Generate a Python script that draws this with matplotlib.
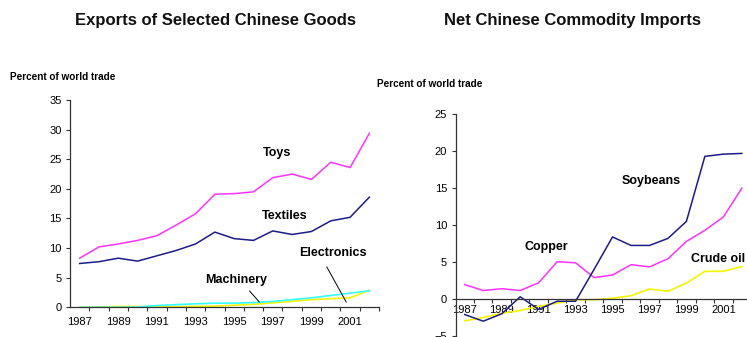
import numpy as np
import matplotlib
matplotlib.use("Agg")
import matplotlib.pyplot as plt
from matplotlib.ticker import FixedLocator, NullFormatter, FixedFormatter

plt.rcParams['font.family'] = ['Liberation Sans', 'DejaVu Sans']

years = np.arange(1987, 2003)
label_years = list(range(1987, 2003, 2))
label_text = [str(y) for y in label_years]

# exports, percent of world trade
toys = [8.3, 10.2, 10.7, 11.3, 12.1, 13.9, 15.8, 19.1, 19.2, 19.5, 21.9, 22.5, 21.6, 24.5, 23.6, 29.4]
textiles = [7.4, 7.7, 8.3, 7.8, 8.7, 9.6, 10.7, 12.7, 11.6, 11.3, 12.9, 12.3, 12.8, 14.6, 15.2, 18.6]
machinery = [0.0, 0.0, 0.0, 0.05, 0.3, 0.45, 0.6, 0.7, 0.7, 0.8, 1.0, 1.3, 1.6, 2.0, 2.4, 2.8]
electronics = [0.0, 0.05, 0.15, 0.15, 0.1, 0.1, 0.15, 0.2, 0.35, 0.5, 0.75, 1.0, 1.3, 1.45, 1.6, 2.9]

# net commodity imports, percent of world trade
soybeans = [-2.1, -3.0, -2.0, 0.3, -1.4, -0.3, -0.3, 4.0, 8.4, 7.25, 7.25, 8.2, 10.5, 19.3, 19.6, 19.7]
copper = [1.95, 1.15, 1.4, 1.15, 2.2, 5.05, 4.9, 2.9, 3.25, 4.65, 4.35, 5.45, 7.8, 9.3, 11.1, 15.0]
crude_oil = [-2.95, -2.5, -1.95, -1.55, -1.0, -0.55, -0.1, -0.1, 0.1, 0.45, 1.35, 1.05, 2.15, 3.75, 3.75, 4.4]

MAGENTA = '#ff33ff'
NAVY = '#1c1c88'
CYAN = '#33ffff'
YELLOW = '#f4f400'
AXIS = '#333333'


def style_axes(ax, ylo, yhi, yticks):
    ax.set_xlim(years[0] - 0.5, years[-1] + 0.5)
    ax.set_ylim(ylo, yhi)
    for s in ['top', 'right']:
        ax.spines[s].set_visible(False)
    for s in ['left', 'bottom']:
        ax.spines[s].set_color(AXIS)
        ax.spines[s].set_linewidth(0.9)
    # tick marks sit between categories, labels on every other year
    ax.xaxis.set_major_locator(FixedLocator(np.arange(years[0] + 0.5, years[-1] + 1, 1.0)))
    ax.xaxis.set_major_formatter(NullFormatter())
    ax.xaxis.set_minor_locator(FixedLocator(label_years))
    ax.xaxis.set_minor_formatter(FixedFormatter(label_text))
    ax.tick_params(axis='x', which='major', length=3, width=0.8, color=AXIS, direction='out')
    ax.tick_params(axis='x', which='minor', length=0, pad=7, labelsize=8)
    ax.set_yticks(yticks)
    ax.tick_params(axis='y', length=3, width=0.8, color=AXIS, direction='out', pad=3, labelsize=8)


fig = plt.figure(figsize=(7.47, 3.37), dpi=100)

# left: exports
ax1 = fig.add_axes([0.0937, 0.0881, 0.4137, 0.615])
ax1.plot(years, electronics, color=YELLOW, lw=1.2)
ax1.plot(years, machinery, color=CYAN, lw=1.2)
ax1.plot(years, textiles, color=NAVY, lw=1.1)
ax1.plot(years, toys, color=MAGENTA, lw=1.1)
style_axes(ax1, 0, 35, range(0, 36, 5))

lbl = dict(fontsize=9, fontweight='bold', ha='center', va='center')
ax1.text(1997.2, 26.1, 'Toys', **lbl)
ax1.text(1997.6, 15.4, 'Textiles', **lbl)
ax1.text(2000.1, 9.2, 'Electronics', **lbl)
ax1.text(1995.1, 4.6, 'Machinery', **lbl)
ax1.plot([1999.8, 2000.8], [6.8, 0.9], color='black', lw=0.7)
ax1.plot([1995.8, 1996.3], [2.75, 0.9], color='black', lw=0.7)

fig.text(0.288, 0.94, 'Exports of Selected Chinese Goods', fontsize=12,
         fontweight='bold', ha='center', va='center', color='#111111')
fig.text(0.013, 0.772, 'Percent of world trade', fontsize=7.2,
         fontweight='bold', ha='left', va='center')

# right: net imports
ax2 = fig.add_axes([0.6098, 0.003, 0.3956, 0.658])
ax2.plot(years, crude_oil, color=YELLOW, lw=1.2)
ax2.plot(years, copper, color=MAGENTA, lw=1.1)
ax2.plot(years, soybeans, color=NAVY, lw=1.1)
style_axes(ax2, -5, 25, range(-5, 26, 5))
ax2.spines['bottom'].set_position(('data', 0))
ax2.tick_params(axis='x', which='minor', pad=4)

ax2.text(1997.08, 16.0, 'Soybeans', **lbl)
ax2.text(1991.4, 7.07, 'Copper', **lbl)
ax2.text(2000.7, 5.45, 'Crude oil', **lbl)

fig.text(0.766, 0.94, 'Net Chinese Commodity Imports', fontsize=12,
         fontweight='bold', ha='center', va='center', color='#111111')
fig.text(0.505, 0.751, 'Percent of world trade', fontsize=7.2,
         fontweight='bold', ha='left', va='center')

fig.savefig('out.png', dpi=100)
